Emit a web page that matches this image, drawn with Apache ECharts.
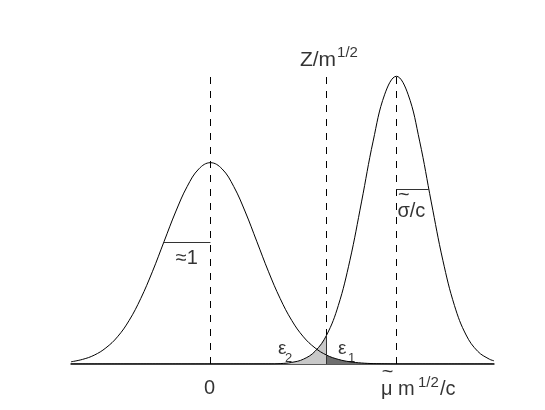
<!DOCTYPE html>
<html><head><meta charset="utf-8">
<script src="https://cdn.jsdelivr.net/npm/echarts@6/dist/echarts.min.js"></script>
<style>html,body{margin:0;padding:0;background:#fff}#c{width:545px;height:410px}</style>
</head><body><div id="c"></div>
<script>
// x positions (in units of the left-hand sigma) at which the curves were read
const xs = [-3, -2.75, -2.5, -2.25, -2, -1.75, -1.5, -1.25, -1, -0.75, -0.5, -0.25,
  0, 0.25, 0.5, 0.75, 1, 1.25, 1.5, 1.75, 2, 2.25, 2.5, 2.75, 3, 3.25, 3.5, 3.75,
  4, 4.25, 4.5, 4.75, 5, 5.25, 5.5, 5.75, 6, 6.1];
// heights of the left curve (peak = 1)
const leftCurve = [0.011, 0.023, 0.044, 0.080, 0.135, 0.216, 0.325, 0.458, 0.607, 0.755, 0.882, 0.969,
  1.000, 0.969, 0.882, 0.755, 0.607, 0.458, 0.325, 0.216, 0.135, 0.080, 0.044, 0.023, 0.011, 0.005, 0.002, 0.001,
  0, 0, 0, 0, 0, 0, 0, 0, 0, 0];
// heights of the right curve
const rightCurve = [0, 0, 0, 0, 0, 0, 0, 0, 0, 0, 0, 0,
  0, 0, 0, 0, 0, 0, 0.002, 0.008, 0.024, 0.063, 0.144, 0.290, 0.515, 0.805, 1.107, 1.340,
  1.429, 1.340, 1.107, 0.805, 0.515, 0.290, 0.144, 0.063, 0.024, 0.016];
// marked positions
const meanLeft = 0;
const meanRight = 4;
const threshold = 2.5;
const sigmaLeft = 1;
const sigmaRight = 0.7;
const sigmaLevelLeft = 0.607;
const sigmaLevelRight = 0.867;
const dashTop = 1.43;
const thresholdRightHeight = 0.144;
// texts
const tickLabels = ['0', '\u03BC m', '1/2', '/c'];
const thresholdLabel = ['Z/m', '1/2'];
const sigmaLabels = ['\u22481', '\u03C3/c'];
const tildeMark = '~';
const epsLabels = ['\u03B5', '2', '\u03B5', '1'];

const leftPairs = xs.map((x, i) => [x, leftCurve[i]]);
const rightPairs = xs.map((x, i) => [x, rightCurve[i]]);
const FONT = '"Liberation Sans", Arial, Helvetica, sans-serif';

function ann(x, y, text, size, offset, align) {
  return {
    value: [x, y],
    label: {
      show: true, formatter: text, position: 'inside', offset: offset,
      align: align || 'center', verticalAlign: 'middle',
      fontSize: size, fontFamily: FONT, color: '#000'
    }
  };
}

const annotations = [
  ann(threshold, dashTop, thresholdLabel[0], 21, [9.4, -16], 'right'),
  ann(threshold, dashTop, thresholdLabel[1], 15, [10.4, -23], 'left'),
  ann(meanLeft, 0, tickLabels[0], 20, [-1, 24], 'center'),
  ann(meanRight, 0, tickLabels[1], 20, [-15.4, 25], 'left'),
  ann(meanRight, 0, tickLabels[2], 15, [21.6, 19], 'left'),
  ann(meanRight, 0, tickLabels[3], 20, [43.6, 25], 'left'),
  ann(meanRight, 0, tildeMark, 20, [-8.9, 8], 'center'),
  ann(meanLeft - sigmaLeft / 2, sigmaLevelLeft, sigmaLabels[0], 20, [-0.5, 17], 'center'),
  ann(meanRight, sigmaLevelRight, sigmaLabels[1], 20, [1, 22.5], 'left'),
  ann(meanRight, sigmaLevelRight, tildeMark, 20, [7.5, 6.5], 'center'),
  ann(threshold, 0, epsLabels[0], 19, [-48.6, -15], 'left'),
  ann(threshold, 0, epsLabels[1], 13, [-41.6, -6], 'left'),
  ann(threshold, 0, epsLabels[2], 19, [11.4, -15], 'left'),
  ann(threshold, 0, epsLabels[3], 13, [21.4, -6], 'left')
];

const chart = echarts.init(document.getElementById('c'), null, {renderer: 'canvas'});
chart.setOption({
  animation: false,
  backgroundColor: '#fff',
  grid: {left: 71, right: 51, top: 62, bottom: 46},
  xAxis: {
    type: 'value', min: -3, max: 6.1,
    axisLine: {show: true, lineStyle: {color: '#222', width: 1.5}},
    axisTick: {show: false}, axisLabel: {show: false}, splitLine: {show: false}
  },
  yAxis: {type: 'value', min: 0, max: 1.5, show: false},
  series: [
    {
      name: 'eps2', type: 'line', data: rightPairs.filter(p => p[0] <= threshold),
      smooth: 0.4, symbol: 'none', lineStyle: {width: 0},
      areaStyle: {color: '#c8c8c8', opacity: 1}, z: 1
    },
    {
      name: 'eps1', type: 'line', data: leftPairs.filter(p => p[0] >= threshold),
      smooth: 0.4, symbol: 'none', lineStyle: {width: 0},
      areaStyle: {color: '#6e6e6e', opacity: 1}, z: 1
    },
    {
      name: 'left', type: 'line', data: leftPairs, smooth: 0.4, symbol: 'none',
      lineStyle: {color: '#000', width: 1}, z: 3,
      markLine: {
        silent: true, symbol: 'none', label: {show: false},
        lineStyle: {color: '#000', width: 1, type: [7, 7]},
        data: [
          [{coord: [meanLeft, 0]}, {coord: [meanLeft, dashTop]}],
          [{coord: [threshold, 0]}, {coord: [threshold, dashTop]}],
          [{coord: [meanRight, 0]}, {coord: [meanRight, dashTop]}]
        ]
      }
    },
    {
      name: 'right', type: 'line', data: rightPairs, smooth: 0.4, symbol: 'none',
      lineStyle: {color: '#000', width: 1}, z: 3,
      markLine: {
        silent: true, symbol: 'none', label: {show: false},
        lineStyle: {color: '#333', width: 1, type: 'solid'},
        data: [
          [{coord: [threshold, 0]}, {coord: [threshold, thresholdRightHeight]}],
          [{coord: [meanLeft - sigmaLeft, sigmaLevelLeft]}, {coord: [meanLeft, sigmaLevelLeft]}],
          [{coord: [meanRight, sigmaLevelRight]}, {coord: [meanRight + sigmaRight, sigmaLevelRight]}]
        ]
      }
    },
    {
      name: 'labels', type: 'scatter', data: annotations, symbolSize: 0,
      itemStyle: {color: 'transparent'}, silent: true, z: 5
    }
  ]
});
</script></body></html>
